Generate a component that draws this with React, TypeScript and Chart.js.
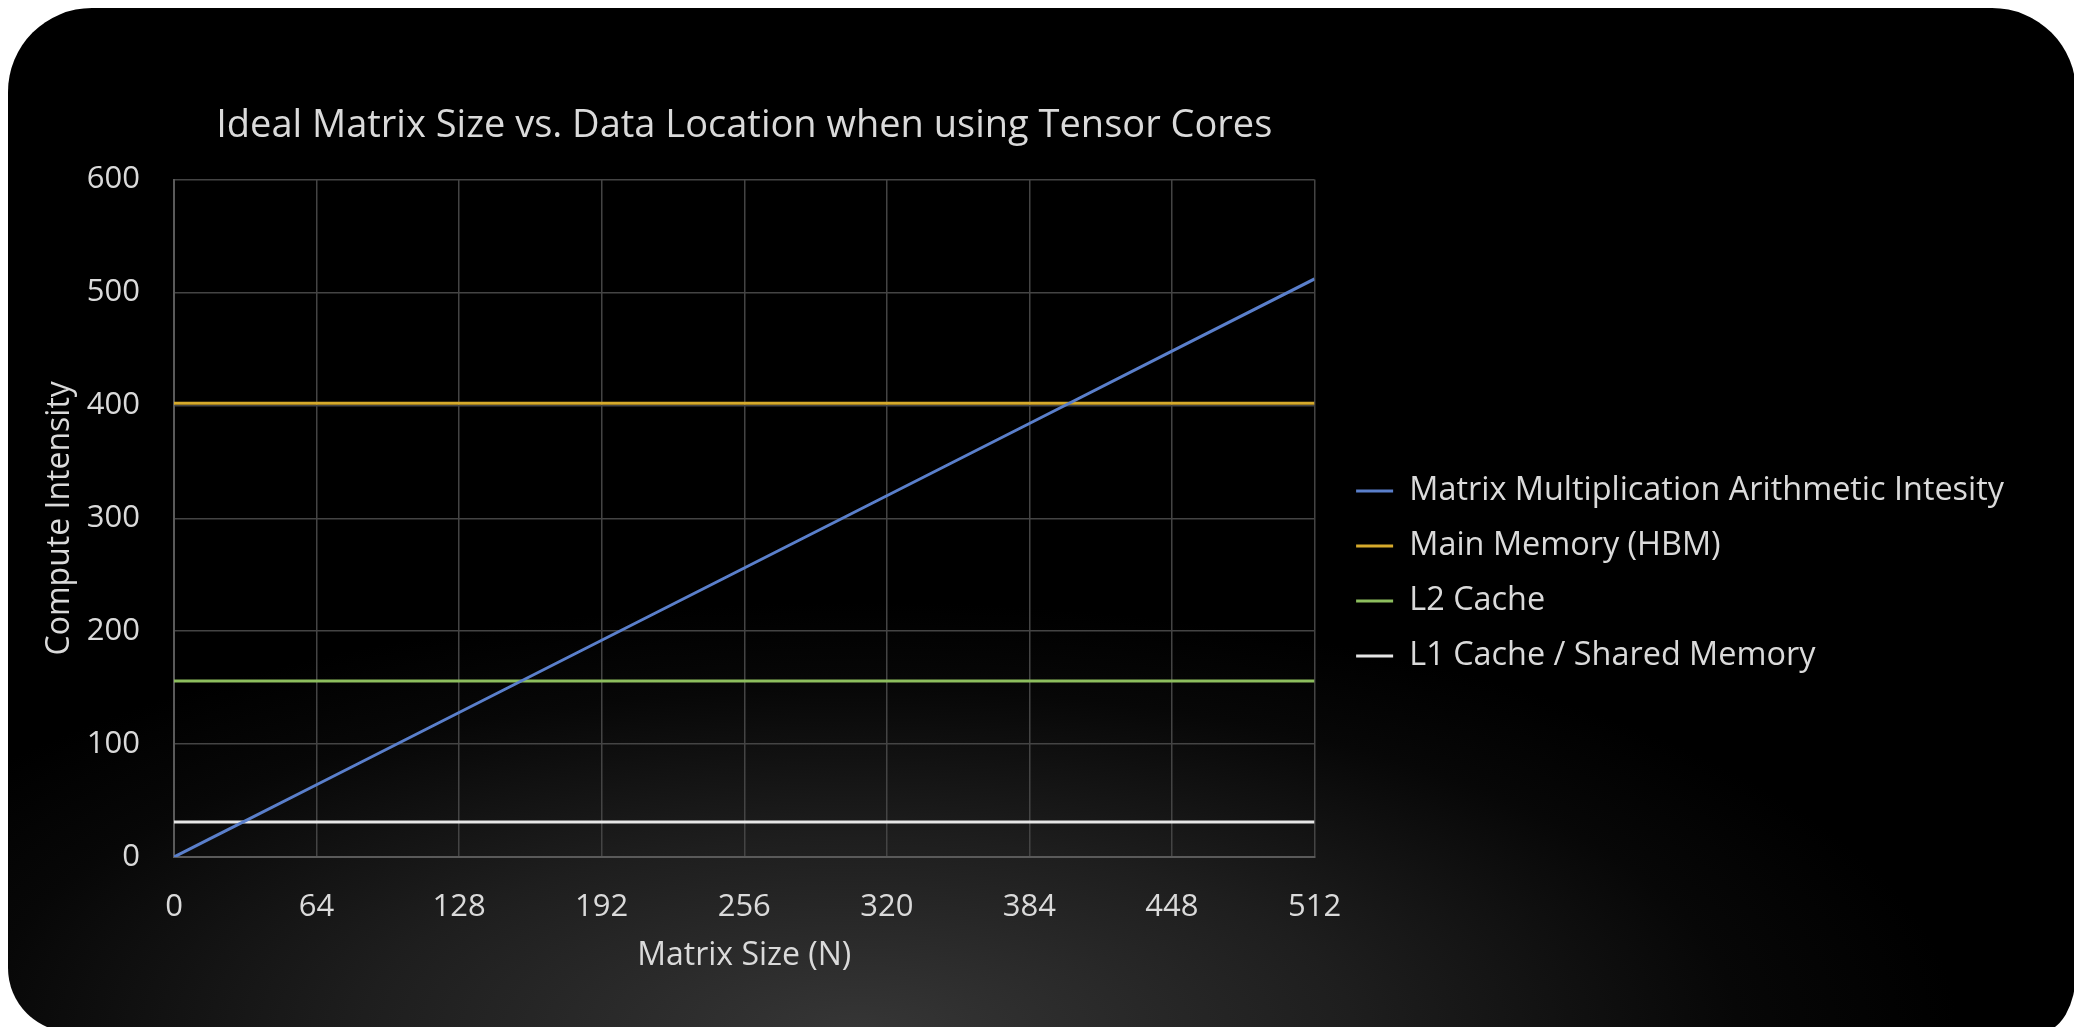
import React, { useEffect, useRef } from 'react';
import { Chart, registerables } from 'chart.js';

Chart.register(...registerables);

const chartTitle = 'Ideal Matrix Size vs. Data Location when using Tensor Cores';
const xAxisTitle = 'Matrix Size (N)';
const yAxisTitle = 'Compute Intensity';
const seriesNames = [
  'Matrix Multiplication Arithmetic Intesity',
  'Main Memory (HBM)',
  'L2 Cache',
  'L1 Cache / Shared Memory',
];
const seriesColors = ['#5A7FCB', '#D6AA2C', '#8DBE5E', '#E6E6E6'];

const matrixSizes = [0, 16, 32, 64, 128, 192, 256, 320, 384, 448, 512];
const matmulIntensity = [0, 16, 32, 64, 128, 192, 256, 320, 384, 448, 512];
const levelSizes = [0, 512];
const hbmIntensity = [402, 402];
const l2Intensity = [156, 156];
const l1Intensity = [31, 31];

const xTicks = [0, 64, 128, 192, 256, 320, 384, 448, 512];
const yTicks = [0, 100, 200, 300, 400, 500, 600];

const FONT = "'Open Sans', 'DejaVu Sans', sans-serif";
const TEXT = '#DADADA';

function pts(xs: number[], ys: number[]) {
  return xs.map((x, i) => ({ x, y: ys[i] }));
}

export default function App() {
  const ref = useRef<HTMLCanvasElement | null>(null);

  useEffect(() => {
    if (!ref.current) return;
    const seriesData = [
      pts(matrixSizes, matmulIntensity),
      pts(levelSizes, hbmIntensity),
      pts(levelSizes, l2Intensity),
      pts(levelSizes, l1Intensity),
    ];
    const chart = new Chart(ref.current, {
      type: 'line',
      data: {
        datasets: seriesNames.map((name, i) => ({
          label: name,
          data: seriesData[i],
          borderColor: seriesColors[i],
          backgroundColor: seriesColors[i],
          borderWidth: 3,
          pointRadius: 0,
          pointHoverRadius: 0,
          tension: 0,
          fill: false,
        })),
      },
      options: {
        responsive: false,
        animation: false,
        layout: { padding: { left: 0, right: 60, top: 0, bottom: 0 } },
        plugins: {
          tooltip: { enabled: false },
          title: {
            display: true,
            text: chartTitle,
            color: TEXT,
            fullSize: false,
            font: { family: FONT, size: 38, weight: 'normal' },
            padding: { top: 103, bottom: 31 },
          },
          legend: {
            display: true,
            position: 'right',
            align: 'center',
            maxWidth: 900,
            title: {
              display: true,
              text: '',
              font: { size: 10 },
              padding: { top: 108, bottom: 0 },
            },
            labels: {
              color: TEXT,
              font: { family: FONT, size: 32.4 },
              usePointStyle: true,
              pointStyle: 'line',
              pointStyleWidth: 37,
              padding: 22.6,
            },
          },
        },
        scales: {
          x: {
            type: 'linear',
            min: 0,
            max: 512,
            afterBuildTicks: (s: any) => {
              s.ticks = xTicks.map((v) => ({ value: v }));
            },
            afterFit: (s: any) => {
              s.height = 170;
            },
            ticks: {
              color: TEXT,
              font: { family: FONT, size: 31 },
              padding: 32,
              maxRotation: 0,
              autoSkip: false,
            },
            grid: { color: '#444444', lineWidth: 1.5, drawTicks: false },
            border: { color: '#5A5A5A', width: 2 },
            title: {
              display: true,
              text: xAxisTitle,
              color: TEXT,
              font: { family: FONT, size: 32 },
              padding: { top: 0, bottom: 51.5 },
            },
          },
          y: {
            type: 'linear',
            min: 0,
            max: 600,
            afterBuildTicks: (s: any) => {
              s.ticks = yTicks.map((v) => ({ value: v }));
            },
            afterFit: (s: any) => {
              s.width = 174;
            },
            ticks: {
              color: TEXT,
              font: { family: FONT, size: 31 },
              padding: 34,
              autoSkip: false,
            },
            grid: { color: '#444444', lineWidth: 1.5, drawTicks: false },
            border: { color: '#5A5A5A', width: 2 },
            title: {
              display: true,
              text: yAxisTitle,
              color: TEXT,
              font: { family: FONT, size: 32 },
              padding: { top: 41, bottom: 0 },
            },
          },
          spacer: {
            type: 'linear',
            position: 'right',
            display: true,
            ticks: { display: false },
            grid: { display: false, drawTicks: false },
            border: { display: false },
            afterFit: (s: any) => {
              s.width = 19;
            },
          },
        },
      },
    } as any);
    return () => chart.destroy();
  }, []);

  return (
    <>
      <div
        style={{
          position: 'fixed',
          left: 8,
          top: 8,
          width: 2068,
          height: 1024,
          borderRadius: '84px 84px 35px 64px / 84px 84px 60px 64px',
          background:
            'radial-gradient(ellipse 1100px 430px at 850px 1024px, #363636 0%, #1e1e1e 45%, #070707 80%, #000 100%)',
        }}
      />
      <div style={{ position: 'fixed', left: 0, top: 0, width: 2074, height: 1027 }}>
        <canvas ref={ref} width={2074} height={1027} style={{ display: 'block' }} />
      </div>
    </>
  );
}
